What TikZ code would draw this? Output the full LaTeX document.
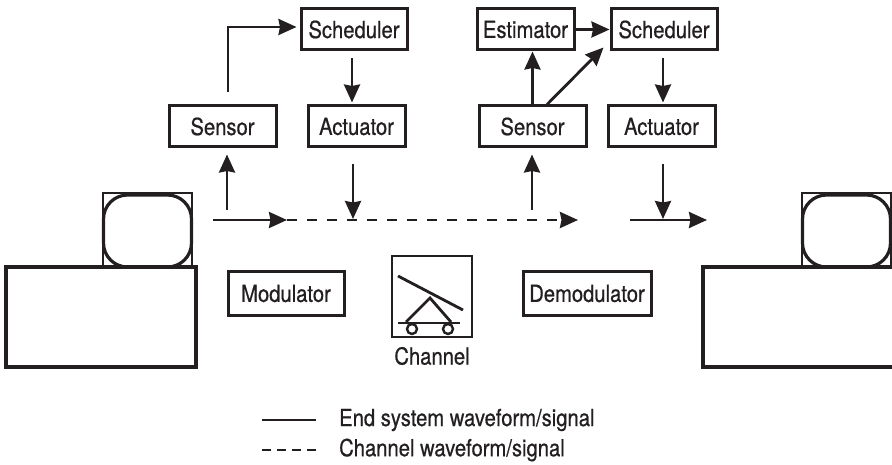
\documentclass[tikz,border=0pt]{standalone}
\usepackage{fontspec}
\setmainfont[FakeStretch=0.86,FakeBold=0.6]{TeX Gyre Heros}
\usetikzlibrary{arrows.meta,calc}
\definecolor{ink}{RGB}{35,31,32}
\begin{document}
\begin{tikzpicture}[x=1pt,y=-1pt,
  every node/.style={text=ink, font=\fontsize{23.5}{27}\selectfont},
  blockbox/.style={draw=ink, line width=3pt, inner sep=0pt, minimum height=41pt},
  sig/.style={draw=ink, line width=2.8pt, -{Stealth[length=18pt,width=16pt,inset=1.5pt]}},
  chan/.style={sig, dash pattern=on 10pt off 10pt},
  plain/.style={draw=ink, line width=2.8pt},
  host/.style={draw=ink, line width=3.2pt, inner sep=0pt},
  bezel/.style={draw=ink, line width=1.8pt, inner sep=0pt},
  screen/.style={draw=ink, line width=3.2pt, inner sep=0pt, rounded corners=24pt},
]
\useasboundingbox (0,0) rectangle (892,465);

% end systems (terminals)
\node[host, minimum width=190pt, minimum height=100pt] (hostA) at (101,317) {};
\node[bezel, minimum width=89pt, minimum height=74pt] (monA) at (147.5,230) {};
\node[screen, minimum width=88pt, minimum height=72pt] (scrA) at (147.5,231) {};
\node[host, minimum width=197pt, minimum height=100pt] (hostB) at (801.5,317) {};
\node[bezel, minimum width=89pt, minimum height=74pt] (monB) at (846.5,230) {};
\node[screen, minimum width=88pt, minimum height=72pt] (scrB) at (846.5,231) {};

% control blocks
\node[blockbox, minimum width=106pt] (schedA) at (354,29.5) {Scheduler};
\node[blockbox, minimum width=107pt] (sensA) at (222.5,126.5) {Sensor};
\node[blockbox, minimum width=97pt] (actA) at (356.5,126.5) {Actuator};
\node[blockbox, minimum width=97pt] (est) at (525.5,29.5) {Estimator};
\node[blockbox, minimum width=106pt] (schedB) at (664,29.5) {Scheduler};
\node[blockbox, minimum width=107pt] (sensB) at (532.5,126.5) {Sensor};
\node[blockbox, minimum width=107pt] (actB) at (661.5,126.5) {Actuator};

% physical layer blocks
\node[blockbox, minimum width=116pt, minimum height=43pt] (mod) at (286,293.5) {Modulator};
\node[blockbox, minimum width=128pt, minimum height=43pt] (demod) at (587,293.5) {Demodulator};
\node[draw=ink, line width=2.8pt, inner sep=0pt, minimum width=80pt, minimum height=81pt] (chan) at (432,296.5) {};
\node (chanlbl) at (432,356) {Channel};

% channel pictogram
\draw[plain] (398,276) -- (463,310);
\draw[plain] (406,322) -- (430,298) -- (451,322);
\draw[plain] (398,323) -- (460,323);
\draw[plain, line width=2.4pt] (412,329) circle (5);
\draw[plain, line width=2.4pt] (448,329) circle (5);

% signal path
\coordinate (txStart) at (213,220);
\coordinate (txEnd) at (287,220);
\coordinate (chEnd) at (578,220);
\coordinate (rxStart) at (630,220);
\coordinate (rxEnd) at (707,220);
\coordinate (tapA) at (227,210);
\coordinate (tapB) at (532,210);
\coordinate (dropA) at (353,219);
\coordinate (dropB) at (663,219);
\draw[sig] (txStart) -- (txEnd);
\draw[chan] (txEnd) -- (chEnd);
\draw[sig] (rxStart) -- (rxEnd);

% sensing and actuation
\draw[sig] (tapA) -- ($(sensA.south)+(4.5,6)$);
\draw[sig] (tapB) -- ($(sensB.south)+(-0.5,6)$);
\draw[sig] ($(actA.south)+(-3.5,16)$) -- (dropA);
\draw[sig] ($(actB.south)+(1.5,16)$) -- (dropB);

% first loop
\draw[sig] ($(sensA.north)+(5.5,-12)$) |- ($(schedA.west)+(-3,-2.5)$);
\draw[sig] ($(schedA.south)+(-2,7)$) -- ($(actA.north)+(-4.5,-2)$);

% second loop
\draw[sig] (sensB.north) -- (sensB.north |- est.south);
\draw[sig] ($(sensB.north)+(14.5,0)$) -- ($(schedB.south west)+(-6,-4)$);
\draw[sig] (est.east) -- (schedB.west);
\draw[sig] ($(schedB.south)+(-1,7)$) -- ($(actB.north)+(1.5,-2)$);

% legend
\coordinate (legA1) at (262,420);
\coordinate (legA2) at (316,420);
\coordinate (legB1) at (262,450);
\coordinate (legB2) at (316,450);
\draw[plain] (legA1) -- (legA2);
\draw[plain, dash pattern=on 9pt off 6pt] (legB1) -- (legB2);
\node[anchor=west, inner sep=0pt] (legTextA) at (339,420) {End system waveform/signal};
\node[anchor=west, inner sep=0pt] (legTextB) at (339,450) {Channel waveform/signal};
\end{tikzpicture}
\end{document}
